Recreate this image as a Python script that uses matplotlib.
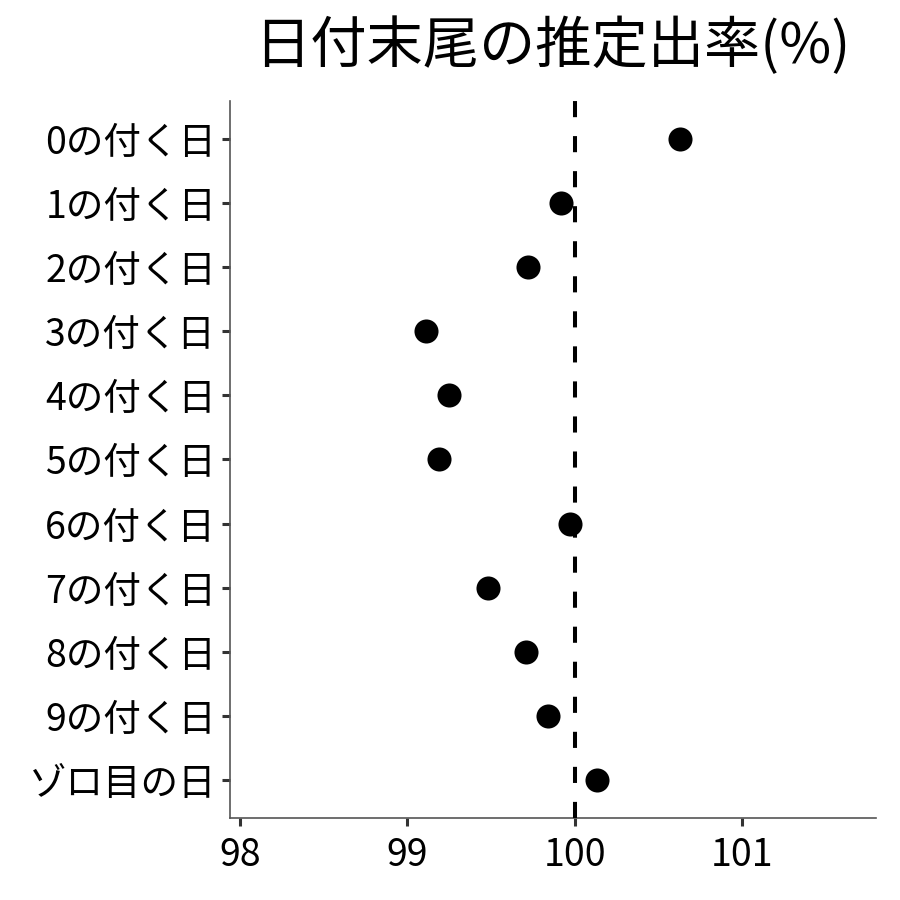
import matplotlib
matplotlib.use("Agg")
import matplotlib.pyplot as plt

plt.rcParams["font.family"] = ["Noto Sans CJK JP", "DejaVu Sans"]

# ---------------------------------------------------------------------------
# Data
# ---------------------------------------------------------------------------
labels = ["0の付く日", "1の付く日", "2の付く日", "3の付く日", "4の付く日",
          "5の付く日", "6の付く日", "7の付く日", "8の付く日", "9の付く日",
          "ゾロ目の日"]
rates = [100.63, 99.92, 99.72, 99.11, 99.25, 99.19, 99.97, 99.48, 99.71,
         99.84, 100.13]
x_ticks = [98, 99, 100, 101]
reference_rate = 100
title = "日付末尾の推定出率(%)"

# ---------------------------------------------------------------------------
# Plot
# ---------------------------------------------------------------------------
fig = plt.figure(figsize=(9, 9), dpi=100)
ax = fig.add_axes([0.2556, 0.0911, 0.7177, 0.7967])

ypos = list(range(len(labels)))
ax.scatter(rates, ypos, s=300, color="black", zorder=3, linewidths=0)
ax.axvline(reference_rate, color="black", linewidth=2.9,
           linestyle=(0, (4, 4.7)), zorder=4)

ax.set_xlim(97.94, 101.80)
ax.set_ylim(len(labels) - 0.4, -0.6)
ax.set_xticks(x_ticks)
ax.set_xticklabels([str(t) for t in x_ticks])
ax.set_yticks(ypos)
ax.set_yticklabels(labels)

for side in ("top", "right"):
    ax.spines[side].set_visible(False)
for side in ("left", "bottom"):
    ax.spines[side].set_color("#555555")
    ax.spines[side].set_linewidth(1.2)

ax.tick_params(axis="both", length=6, width=2.2, color="#333333",
               labelsize=27, labelcolor="black", pad=4)
ax.tick_params(axis="x", pad=7)

fig.text(0.614, 0.948, title, ha="center", va="center", fontsize=40.5)

fig.savefig("out.png", dpi=100, facecolor="white")
